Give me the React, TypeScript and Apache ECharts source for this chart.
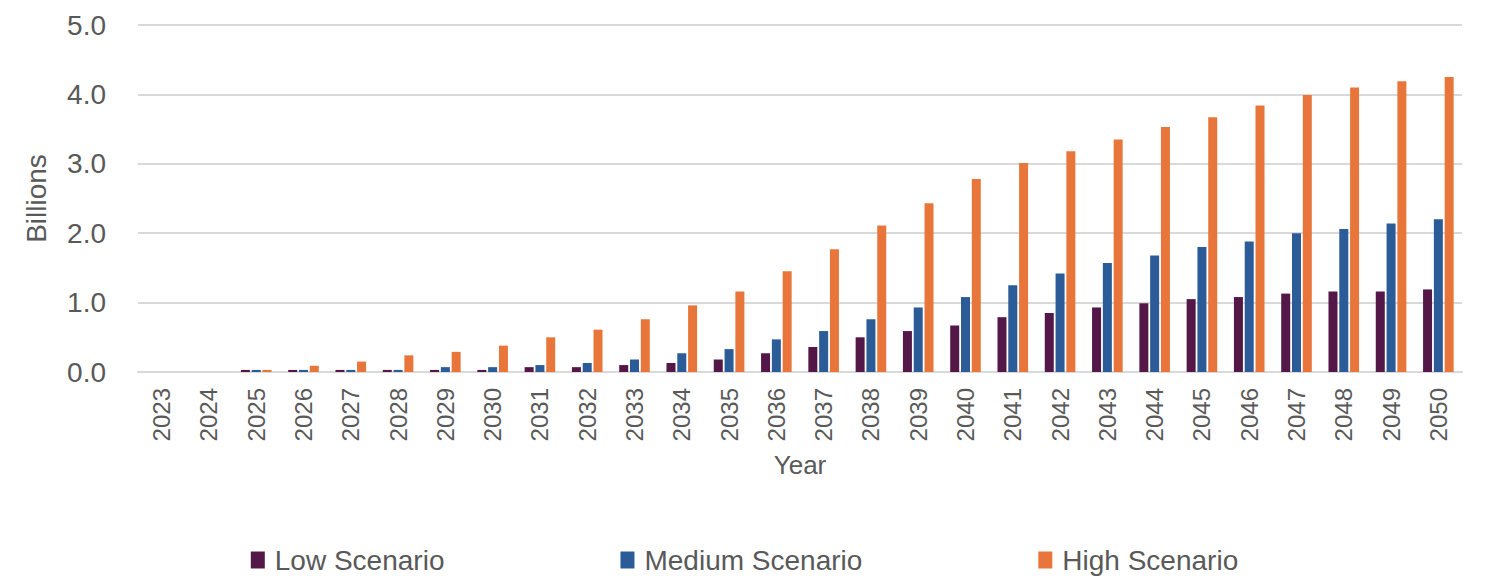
import React, { useEffect, useRef } from "react";
import * as echarts from "echarts";

const years = [
  "2023", "2024", "2025", "2026", "2027", "2028", "2029", "2030", "2031", "2032",
  "2033", "2034", "2035", "2036", "2037", "2038", "2039", "2040", "2041", "2042",
  "2043", "2044", "2045", "2046", "2047", "2048", "2049", "2050",
];

const lowScenario = [
  0, 0, 0.03, 0.03, 0.03, 0.03, 0.03, 0.03, 0.07, 0.07,
  0.1, 0.13, 0.18, 0.27, 0.36, 0.5, 0.59, 0.67, 0.79, 0.85,
  0.93, 0.99, 1.05, 1.08, 1.13, 1.16, 1.16, 1.19,
];

const mediumScenario = [
  0, 0, 0.03, 0.03, 0.03, 0.03, 0.07, 0.07, 0.1, 0.13,
  0.18, 0.27, 0.33, 0.47, 0.59, 0.76, 0.93, 1.08, 1.25, 1.42,
  1.57, 1.68, 1.8, 1.88, 2.0, 2.06, 2.14, 2.2,
];

const highScenario = [
  0, 0, 0.03, 0.09, 0.15, 0.24, 0.29, 0.38, 0.5, 0.61,
  0.76, 0.96, 1.16, 1.45, 1.77, 2.11, 2.43, 2.78, 3.01, 3.18,
  3.35, 3.53, 3.67, 3.84, 3.99, 4.1, 4.19, 4.25,
];

const seriesNames = ["Low Scenario", "Medium Scenario", "High Scenario"];
const colors = ["#541848", "#2B5C98", "#E8763B"];

const FONT = "'Liberation Sans', Arial, sans-serif";
const TEXT = "#595959";

export default function App() {
  const ref = useRef<HTMLDivElement | null>(null);

  useEffect(() => {
    document.body.style.margin = "0";
    if (!ref.current) return;
    const chart = echarts.init(ref.current, null, { renderer: "svg" });
    const data = [lowScenario, mediumScenario, highScenario];
    chart.setOption({
      animation: false,
      backgroundColor: "#ffffff",
      textStyle: { fontFamily: FONT },
      grid: { left: 138, right: 27, top: 25, bottom: 207, containLabel: false },
      legend: {
        data: seriesNames,
        top: 541,
        left: "center",
        itemWidth: 14,
        itemHeight: 17,
        itemGap: 176,
        icon: "rect",
        textStyle: { fontSize: 28, color: TEXT, fontFamily: FONT, padding: [0, 0, 0, 5] },
      },
      xAxis: {
        type: "category",
        data: years,
        name: "Year",
        nameLocation: "middle",
        nameGap: 80,
        nameTextStyle: { fontSize: 26, color: TEXT, fontFamily: FONT },
        axisLine: { lineStyle: { color: "#d9d9d9", width: 2 } },
        axisTick: { show: false },
        axisLabel: {
          rotate: 90,
          fontSize: 24,
          color: TEXT,
          fontFamily: FONT,
          margin: 16,
          interval: 0,
        },
      },
      yAxis: {
        type: "value",
        min: 0,
        max: 5,
        interval: 1,
        name: "Billions",
        nameLocation: "middle",
        nameGap: 88,
        nameRotate: 90,
        nameTextStyle: { fontSize: 28, color: TEXT, fontFamily: FONT },
        axisLine: { show: false },
        axisTick: { show: false },
        splitLine: { lineStyle: { color: "#d9d9d9", width: 2 } },
        axisLabel: {
          fontSize: 28,
          color: TEXT,
          fontFamily: FONT,
          margin: 32,
          formatter: (v: number) => v.toFixed(1),
        },
      },
      series: seriesNames.map((name, i) => ({
        name,
        type: "bar",
        data: data[i],
        barWidth: 9,
        barGap: "20%",
        itemStyle: { color: colors[i] },
      })),
    });
    return () => chart.dispose();
  }, []);

  return <div ref={ref} style={{ width: 1489, height: 579 }} />;
}
